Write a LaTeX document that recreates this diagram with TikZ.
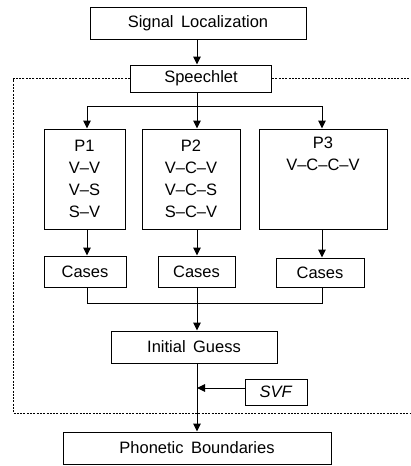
\documentclass[tikz,border=0pt]{standalone}
\usepackage{fontspec}
\setmainfont{Liberation Sans}
\usetikzlibrary{arrows.meta}
\begin{document}
\begin{tikzpicture}[x=1pt,y=-1pt,
  box/.style={draw,line width=1pt,inner sep=0pt,align=center,
    font={\fontsize{16.5}{22}\selectfont}},
  conn/.style={line width=1pt},
  arr/.style={conn,-{Triangle[length=8pt,width=7.5pt]}},
  frame/.style={line width=0.8pt,dash pattern=on 2pt off 1.3pt}]
\useasboundingbox (0,0) rectangle (410,466);
% column axes for the connectors
\coordinate (a1) at (87,0);
\coordinate (a2) at (197,0);
\coordinate (a3) at (322,0);
% blocks
\node[box,minimum width=216pt,minimum height=32pt] (sig) at (198,23) {Signal\hspace{0.45em}Localization};
\node[box,minimum width=141pt,minimum height=27pt] (speech) at (201,78.5) {Speechlet};
\node[box,minimum width=81pt,minimum height=100pt] (p1) at (84.5,179) {P1\\V--V\\V--S\\S--V};
\node[box,minimum width=98pt,minimum height=100pt] (p2) at (191,179) {P2\\V--C--V\\V--C--S\\S--C--V};
\node[box,minimum width=128pt,minimum height=100pt] (p3) at (323,179) {P3\\V--C--C--V\\\strut\\\strut};
\node[box,minimum width=82pt,minimum height=31pt] (c1) at (85,271.5) {Cases};
\node[box,minimum width=77pt,minimum height=31pt] (c2) at (196.5,271.5) {Cases};
\node[box,minimum width=88pt,minimum height=29pt] (c3) at (320,272.5) {Cases};
\node[box,minimum width=166pt,minimum height=32pt] (guess) at (194,347) {Initial\hspace{0.45em}Guess};
\node[box,minimum width=62pt,minimum height=26pt] (svf) at (276,392) {\textit{SVF}};
\node[box,minimum width=268pt,minimum height=32pt] (phon) at (197,448) {Phonetic\hspace{0.45em}Boundaries};
% junction points
\coordinate (split) at (197,106);
\coordinate (merge) at (197,303);
\coordinate (fb) at (197,388);
% dashed enclosure around the speechlet stage
\draw[frame] (speech.west) -- (13,78.5) -- (13,413) -- (410,413);
\draw[frame] (speech.east) -- (410,78.5);
% connectors
\draw[arr] (sig.south -| a2) -- (speech.north -| a2);
\draw[conn] (speech.south -| a2) -- (split);
\draw[conn] (split -| a1) -- (split -| a3);
\draw[arr] (split -| a1) -- (p1.north -| a1);
\draw[arr] (split) -- (p2.north -| a2);
\draw[arr] (split -| a3) -- (p3.north -| a3);
\draw[arr] (p1.south -| a1) -- (c1.north -| a1);
\draw[arr] (p2.south -| a2) -- (c2.north -| a2);
\draw[arr] (p3.south -| a3) -- (c3.north -| a3);
\draw[conn] (c1.south -| a1) |- (merge -| a3) -- (c3.south -| a3);
\draw[arr] (c2.south -| a2) -- (guess.north -| a2);
\draw[arr] (guess.south -| a2) -- (phon.north -| a2);
\draw[arr] (svf.west |- fb) -- (fb);
\end{tikzpicture}
\end{document}
